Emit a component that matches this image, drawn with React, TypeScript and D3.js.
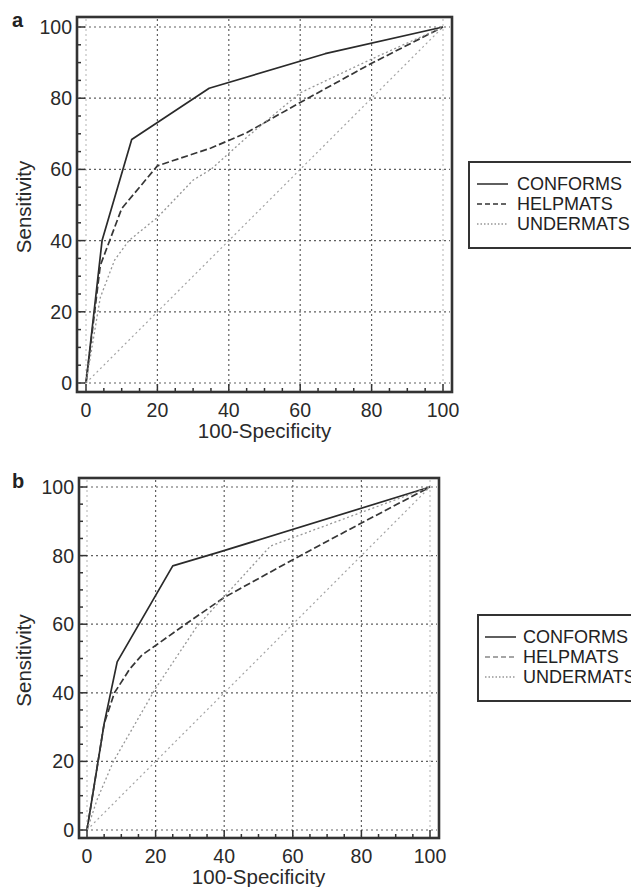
import React from 'react';
import * as d3 from 'd3';

// ROC curves, values (x = 100-Specificity, y = Sensitivity)
const axisTicks = [0, 20, 40, 60, 80, 100];
const seriesNames = ['CONFORMS', 'HELPMATS', 'UNDERMATS'];

// panel a
const conformsAX = [0, 4.5, 12.8, 34.5, 67, 100];
const conformsAY = [0, 40, 68.4, 82.8, 92.5, 100];
const helpmatsAX = [0, 4, 10, 20, 35, 45, 60, 80, 100];
const helpmatsAY = [0, 33, 49, 61, 66, 70.3, 78.8, 89.8, 100];
const undermatsAX = [0, 4, 8, 12, 20, 30, 35, 45, 60, 80, 100];
const undermatsAY = [0, 24, 34.5, 40, 46.5, 57, 60, 69, 81.5, 91, 100];

// panel b
const conformsBX = [0, 5, 8.8, 25, 38.5, 100];
const conformsBY = [0, 31, 49, 77, 81, 100];
const helpmatsBX = [0, 5, 8, 12.5, 16, 20.3, 29, 40, 60, 80, 100];
const helpmatsBY = [0, 31, 40, 47, 51, 54, 60.2, 67.8, 78.8, 89.5, 100];
const undermatsBX = [0, 3, 7.7, 20, 32, 53.5, 100];
const undermatsBY = [0, 9, 20, 41.3, 59.3, 82.8, 100];

// reference (chance) line
const chanceX = [0, 100];
const chanceY = [0, 100];

const FONT = '"Liberation Sans", Arial, Helvetica, sans-serif';

const zip = (xs: number[], ys: number[]) => xs.map((x, i) => [x, ys[i]] as [number, number]);

const styles = [
  { stroke: '#2a2a2a', width: 1.7, dash: null },
  { stroke: '#363636', width: 1.7, dash: '7,3' },
  { stroke: '#969696', width: 1.3, dash: '2,2.5' },
];

type PanelProps = {
  label: string;
  frame: { l: number; t: number; r: number; b: number };
  plot: { x0: number; x1: number; y0: number; y1: number };
  series: [number, number][][];
  legend: { x: number; y: number; lineX: number; textX: number };
  legendDashColor: string;
};

const Panel = ({ label, frame, plot, series, legend, legendDashColor }: PanelProps) => {
  const x = d3.scaleLinear().domain([0, 100]).range([plot.x0, plot.x1]);
  const y = d3.scaleLinear().domain([0, 100]).range([plot.y0, plot.y1]);
  const line = d3.line<[number, number]>().x(d => x(d[0])).y(d => y(d[1]));
  const minor = x.ticks(20);
  const chance = zip(chanceX, chanceY);

  return (
    <g>
      <text x={12} y={frame.t + 10} fontFamily={FONT} fontSize={20} fontWeight="bold" fill="#222">{label}</text>

      {/* grid */}
      {axisTicks.map(t => (
        <line key={'gx' + t} x1={x(t)} x2={x(t)} y1={frame.t + 2} y2={frame.b - 2}
          stroke={t === 0 || t === 100 ? '#c0c0c0' : '#606060'} strokeWidth={1.2} strokeDasharray="2,3" />
      ))}
      {axisTicks.map(t => (
        <line key={'gy' + t} x1={frame.l + 2} x2={frame.r - 2} y1={y(t)} y2={y(t)}
          stroke="#606060" strokeWidth={1.2} strokeDasharray="2,3" />
      ))}

      {/* curves */}
      <path d={line(chance) || ''} fill="none" stroke="#a4a4a4" strokeWidth={1.2} strokeDasharray="2,3" />
      {series.map((s, i) => (
        <path key={i} d={line(s) || ''} fill="none" stroke={styles[i].stroke}
          strokeWidth={styles[i].width} strokeDasharray={styles[i].dash || undefined} strokeLinejoin="round" />
      ))}

      {/* frame */}
      <rect x={frame.l} y={frame.t} width={frame.r - frame.l} height={frame.b - frame.t}
        fill="none" stroke="#333" strokeWidth={2.6} />

      {/* inward ticks */}
      {minor.map(t => {
        const len = t % 20 === 0 ? 8 : 4;
        return (
          <g key={'t' + t}>
            <line x1={frame.l} x2={frame.l + len} y1={y(t)} y2={y(t)} stroke="#333" strokeWidth={1.5} />
            <line x1={x(t)} x2={x(t)} y1={frame.b} y2={frame.b - len} stroke="#333" strokeWidth={1.5} />
          </g>
        );
      })}

      {/* tick labels */}
      {axisTicks.map(t => (
        <text key={'ly' + t} x={frame.l - 5} y={y(t)} dy="0.36em" textAnchor="end"
          fontFamily={FONT} fontSize={19.5} fill="#2a2a2a">{t}</text>
      ))}
      {axisTicks.map(t => (
        <text key={'lx' + t} x={x(t)} y={frame.b + 24.5} textAnchor="middle"
          fontFamily={FONT} fontSize={19.5} fill="#2a2a2a">{t}</text>
      ))}

      {/* axis titles */}
      <text x={(plot.x0 + plot.x1) / 2} y={frame.b + 46} textAnchor="middle"
        fontFamily={FONT} fontSize={20.5} fill="#2a2a2a">100-Specificity</text>
      <text transform={`translate(${31},${(plot.y0 + plot.y1) / 2 + 2}) rotate(-90)`} textAnchor="middle"
        fontFamily={FONT} fontSize={20.5} fill="#2a2a2a">Sensitivity</text>

      {/* legend */}
      <rect x={legend.x} y={legend.y} width={200} height={86} fill="#fff" stroke="#333" strokeWidth={2} />
      {seriesNames.map((n, i) => {
        const ly = legend.y + 22 + i * 20;
        return (
          <g key={n}>
            <line x1={legend.lineX} x2={legend.lineX + 31} y1={ly} y2={ly}
              stroke={i === 1 ? legendDashColor : styles[i].stroke} strokeWidth={1.5}
              strokeDasharray={i === 0 ? undefined : i === 1 ? '5,3' : '1.5,2'} />
            <text x={legend.textX} y={ly + 6} fontFamily={FONT} fontSize={18} fill="#222">{n}</text>
          </g>
        );
      })}
    </g>
  );
};

export default function App() {
  const seriesA = [zip(conformsAX, conformsAY), zip(helpmatsAX, helpmatsAY), zip(undermatsAX, undermatsAY)];
  const seriesB = [zip(conformsBX, conformsBY), zip(helpmatsBX, helpmatsBY), zip(undermatsBX, undermatsBY)];
  return (
    <svg width={631} height={887} style={{ position: 'absolute', left: 0, top: 0, background: '#fff' }}>
      <Panel label="a"
        frame={{ l: 77, t: 17, r: 452, b: 392 }}
        plot={{ x0: 86, x1: 443, y0: 383, y1: 27 }}
        series={seriesA}
        legend={{ x: 469, y: 162, lineX: 477, textX: 517 }}
        legendDashColor="#333" />
      <Panel label="b"
        frame={{ l: 79, t: 478, r: 439, b: 838 }}
        plot={{ x0: 87, x1: 430, y0: 830, y1: 487 }}
        series={seriesB}
        legend={{ x: 478, y: 615, lineX: 485, textX: 523 }}
        legendDashColor="#888" />
    </svg>
  );
}
